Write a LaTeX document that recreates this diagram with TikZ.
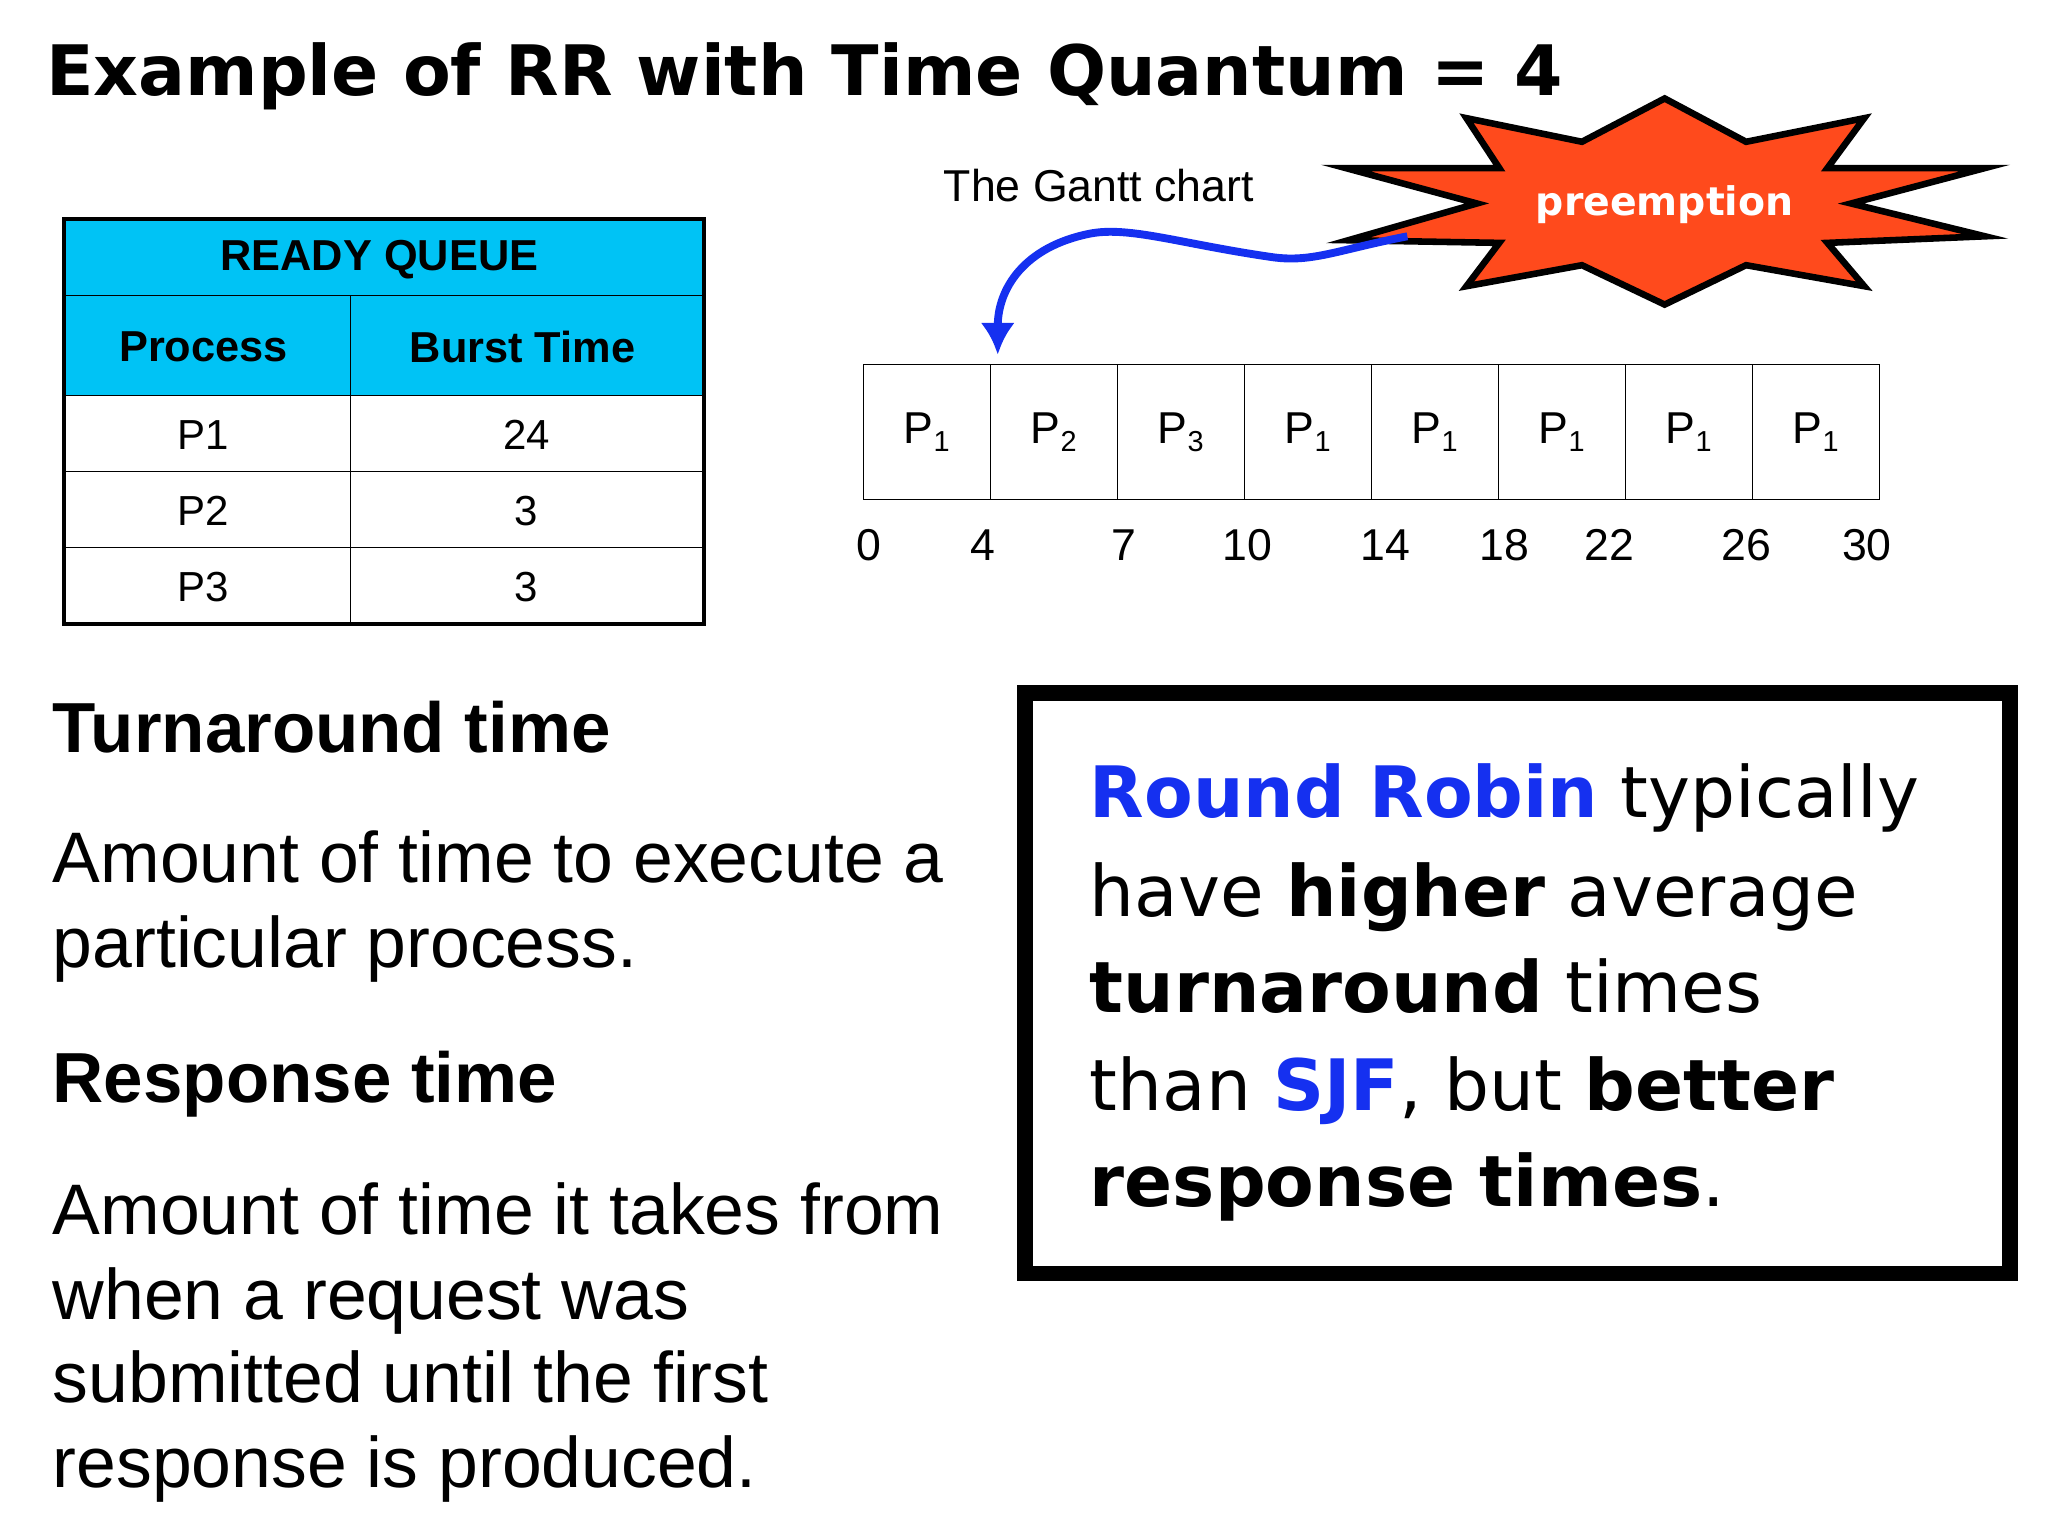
\documentclass[tikz,border=0pt]{standalone}
\usepackage{fontspec}
\usetikzlibrary{arrows.meta}
\setmainfont{Liberation Sans}
\newfontfamily\verd{DejaVu Sans}
\definecolor{qcyan}{HTML}{00C3F5}
\definecolor{rrblue}{HTML}{1530F0}
\definecolor{burst}{HTML}{FF4A1C}
\begin{document}
\begin{tikzpicture}[x=1pt,y=-1pt,
  txt/.style={anchor=base west,inner sep=0pt},
  cell/.style={draw,line width=1pt,minimum width=96.75pt,minimum height=103pt,inner sep=0pt,anchor=north west,font=\fontsize{34}{40}\selectfont},
  tnum/.style={anchor=base,inner sep=0pt,font=\fontsize{34}{40}\selectfont},
  tcell/.style={anchor=center,inner sep=0pt,font=\fontsize{32}{38}\selectfont}]
\useasboundingbox (0,0) rectangle (1560,1170);
\node[txt,font=\verd\bfseries\fontsize{53}{60}\selectfont] (title) at (35,73) {Example of RR with Time Quantum = 4};
% table
\fill[qcyan] (49,167) rectangle (536,301);
\draw[line width=1pt] (49,225) -- (536,225) (49,301) -- (536,301) (49,359) -- (536,359) (49,417) -- (536,417) (267,225) -- (267,475);
\draw[line width=3pt] (49,167) rectangle (536,475);
\node[tcell,font=\bfseries\fontsize{33}{38}\selectfont] (rq) at (289,198) {READY QUEUE};
\node[tcell,font=\bfseries\fontsize{33}{38}\selectfont] (hp) at (155,264) {Process};
\node[tcell,font=\bfseries\fontsize{33}{38}\selectfont] (hb) at (398,264) {Burst Time};
\node[tcell] (p1) at (155,331) {P1}; \node[tcell] (b1) at (401,331) {24};
\node[tcell] (p2) at (155,389) {P2}; \node[tcell] (b2) at (401,389) {3};
\node[tcell] (p3) at (155,447) {P3}; \node[tcell] (b3) at (401,447) {3};
% gantt
\foreach \i/\s in {0/1,1/2,2/3,3/1,4/1,5/1,6/1,7/1}{
  \node[cell] (g\i) at (657+\i*96.75,277) {P\raisebox{-0.35ex}{\fontsize{22}{24}\selectfont\s}};
}
\foreach \n/\x in {0/662,4/749,7/856,10/950,14/1055,18/1146,22/1226,26/1330,30/1422}{
  \node[tnum] (t\n) at (\x,427) {\n};
}
\node[anchor=center,inner sep=0pt,font=\fontsize{34}{40}\selectfont] (gc) at (837,141) {The Gantt chart};
% starburst
\draw[line width=5pt,fill=burst,line join=miter]
 (1268,75) -- (1330,108) -- (1420,90) -- (1392,128) -- (1512,128) -- (1410,155) -- (1512,180) -- (1392,185) -- (1420,218) -- (1330,202) -- (1268,232) -- (1205,202) -- (1117,218) -- (1142,185) -- (1027,183) -- (1125,155) -- (1025,128) -- (1142,128) -- (1117,90) -- (1205,108) -- cycle;
\node[anchor=center,text=white,font=\verd\bfseries\fontsize{30}{36}\selectfont] (pre) at (1268,156) {preemption};
\coordinate (as) at (1072,180);
\coordinate (ae) at (760,270);
\draw[rrblue,line width=6pt,-{Latex[length=24pt,width=26pt]}] (as) .. controls (1020,190) and (1000,200) .. (970,196) .. controls (900,186) and (860,172) .. (830,178) .. controls (780,188) and (760,220) .. (ae);
% left text
\begin{scope}[font=\fontsize{54.5}{60}\selectfont]
\node[txt,font=\bfseries\fontsize{54}{60}\selectfont] (tt) at (40,573) {Turnaround time};
\node[txt] (a1) at (40,672) {Amount of time to execute a};
\node[txt] (a2) at (40,737) {particular process.};
\node[txt,font=\bfseries\fontsize{54}{60}\selectfont] (rt) at (40,840) {Response time};
\node[txt] (r1) at (40,940) {Amount of time it takes from};
\node[txt] (r2) at (40,1005) {when a request was};
\node[txt] (r3) at (40,1068) {submitted until the first};
\node[txt] (r4) at (40,1133) {response is produced.};
\end{scope}
% right box
\draw[line width=12pt] (781,528) rectangle (1531,970);
\begin{scope}[font=\verd\fontsize{54}{60}\selectfont]
\node[txt] (l1) at (830,623) {\textcolor{rrblue}{\bfseries Round Robin} typically};
\node[txt] (l2) at (830,698) {have \textbf{higher} average};
\node[txt] (l3) at (830,771) {\textbf{turnaround} times};
\node[txt] (l4) at (830,846) {than \textcolor{rrblue}{\bfseries SJF}, but \textbf{better}};
\node[txt] (l5) at (830,919) {\textbf{response times}.};
\end{scope}
\end{tikzpicture}
\end{document}
